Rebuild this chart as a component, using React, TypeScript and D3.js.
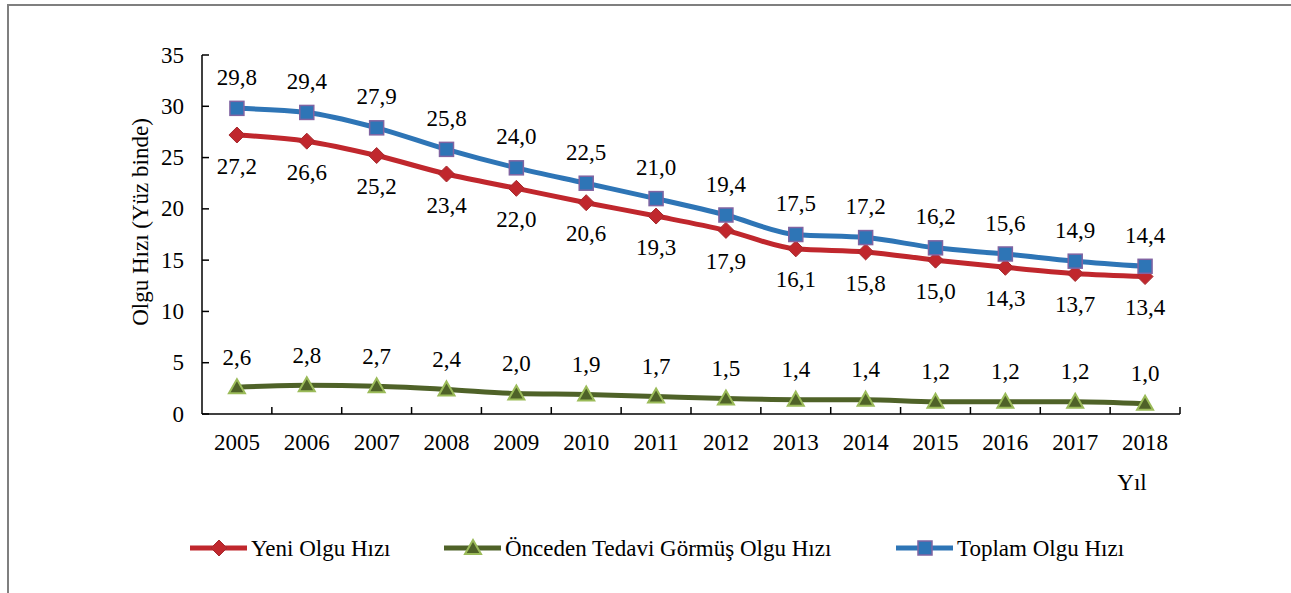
import React from "react";
import * as d3 from "d3";

const years = ["2005","2006","2007","2008","2009","2010","2011","2012","2013","2014","2015","2016","2017","2018"];
const yeni = [27.2, 26.6, 25.2, 23.4, 22.0, 20.6, 19.3, 17.9, 16.1, 15.8, 15.0, 14.3, 13.7, 13.4];
const onceden = [2.6, 2.8, 2.7, 2.4, 2.0, 1.9, 1.7, 1.5, 1.4, 1.4, 1.2, 1.2, 1.2, 1.0];
const toplam = [29.8, 29.4, 27.9, 25.8, 24.0, 22.5, 21.0, 19.4, 17.5, 17.2, 16.2, 15.6, 14.9, 14.4];
const yTicks = [0, 5, 10, 15, 20, 25, 30, 35];
const seriesNames = ["Yeni Olgu Hızı", "Önceden Tedavi Görmüş Olgu Hızı", "Toplam Olgu Hızı"];

const W = 1291, H = 593;
const TS: React.CSSProperties = { fontFamily: "Liberation Serif", fontSize: "23px", fill: "#000" };

export default function App() {
  const x0 = 202, x1 = 1180;
  const x = d3.scaleBand<string>().domain(years).range([x0, x1]);
  const y = d3.scaleLinear().domain([0, 35]).range([414, 55]);
  const cx = (i: number) => (x(years[i]) as number) + x.bandwidth() / 2;
  const line = d3.line<number>().x((_, i) => cx(i)).y(d => y(d)).curve(d3.curveMonotoneX);
  const fmt = (v: number) => v.toFixed(1).replace(".", ",");

  const red = "#C0272D", redB = "#A52A2E";
  const green = "#4F6228", greenB = "#9BBB59";
  const blue = "#2E75B6", blueB = "#8064A2";

  const diamond = (px: number, py: number, k: string) => (
    <path key={k} d={`M${px},${py - 8}L${px + 8},${py}L${px},${py + 8}L${px - 8},${py}Z`} fill={red} stroke={redB} strokeWidth={1} />
  );
  const tri = (px: number, py: number, k: string) => (
    <path key={k} d={`M${px},${py - 8}L${px + 8},${py + 6}L${px - 8},${py + 6}Z`} fill={green} stroke={greenB} strokeWidth={2} />
  );
  const sq = (px: number, py: number, k: string) => (
    <rect key={k} x={px - 7} y={py - 7} width={14} height={14} fill={blue} stroke={blueB} strokeWidth={1.5} />
  );

  const legendY = 548;
  const legend = [
    { x: 190, color: red, mk: diamond, name: seriesNames[0] },
    { x: 444, color: green, mk: tri, name: seriesNames[1] },
    { x: 896, color: blue, mk: sq, name: seriesNames[2] },
  ];

  return (
    <svg width={W} height={H} style={{ position: "absolute", left: 0, top: 0, background: "#fff" }}>
      <rect x={8} y={5} width={W + 20} height={H + 20} fill="none" stroke="#7f7f7f" strokeWidth={2} />
      {/* axes */}
      <line x1={x0} x2={x0} y1={y(35)} y2={y(0)} stroke="#000" strokeWidth={1.5} />
      <line x1={x0} x2={x1} y1={y(0)} y2={y(0)} stroke="#000" strokeWidth={1.5} />
      {yTicks.map(t => (
        <g key={t}>
          <line x1={x0} x2={x0 + 7} y1={y(t)} y2={y(t)} stroke="#000" strokeWidth={1.5} />
          <text x={184} y={y(t)} dy="0.33em" textAnchor="end" style={TS}>{t}</text>
        </g>
      ))}
      {years.map((yr, i) => (
        <g key={yr}>
          <line x1={(x(yr) as number) + x.bandwidth()} x2={(x(yr) as number) + x.bandwidth()} y1={y(0)} y2={y(0) - 7} stroke="#000" strokeWidth={1.5} />
          <text x={cx(i)} y={442} dy="0.33em" textAnchor="middle" style={TS}>{yr}</text>
        </g>
      ))}
      <text x={1132} y={482} dy="0.33em" textAnchor="middle" style={TS}>Yıl</text>
      <text transform="translate(140,222) rotate(-90)" textAnchor="middle" dy="0.33em" style={TS}>Olgu Hızı (Yüz binde)</text>

      {/* lines */}
      <path d={line(onceden) || ""} fill="none" stroke={green} strokeWidth={5} />
      <path d={line(yeni) || ""} fill="none" stroke={red} strokeWidth={5} />
      <path d={line(toplam) || ""} fill="none" stroke={blue} strokeWidth={5} />

      {onceden.map((v, i) => tri(cx(i), y(v), "g" + i))}
      {yeni.map((v, i) => diamond(cx(i), y(v), "r" + i))}
      {toplam.map((v, i) => sq(cx(i), y(v), "b" + i))}

      {onceden.map((v, i) => (
        <text key={"gl" + i} x={cx(i)} y={y(v) - 30} dy="0.33em" textAnchor="middle" style={TS}>{fmt(v)}</text>
      ))}
      {yeni.map((v, i) => (
        <text key={"rl" + i} x={cx(i)} y={y(v) + 31} dy="0.33em" textAnchor="middle" style={TS}>{fmt(v)}</text>
      ))}
      {toplam.map((v, i) => (
        <text key={"bl" + i} x={cx(i)} y={y(v) - 31} dy="0.33em" textAnchor="middle" style={TS}>{fmt(v)}</text>
      ))}

      {/* legend */}
      {legend.map((l, i) => (
        <g key={"lg" + i}>
          <line x1={l.x} x2={l.x + 57} y1={legendY} y2={legendY} stroke={l.color} strokeWidth={5} />
          {l.mk(l.x + 29, legendY, "lm" + i)}
          <text x={l.x + 61} y={legendY} dy="0.33em" style={TS}>{l.name}</text>
        </g>
      ))}
    </svg>
  );
}
